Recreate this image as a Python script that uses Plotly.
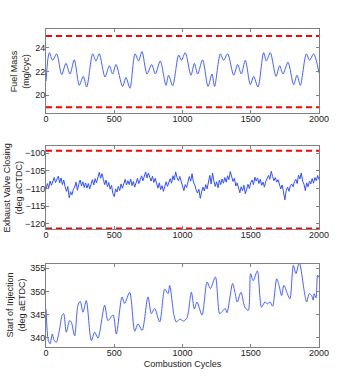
import plotly.graph_objects as go

# ---------------- data ----------------
cycles_fuel = [0, 24, 49, 78, 115, 146, 176, 207, 244, 273, 298, 342, 366, 390, 432, 464, 488, 513,
               561, 586, 615, 652, 679, 703, 740, 774, 801, 837, 879, 898, 928, 972, 992, 1020,
               1062, 1087, 1111, 1147, 1187, 1216, 1235, 1277, 1301, 1331, 1375, 1404, 1431, 1460,
               1497, 1521, 1553, 1594, 1614, 1643, 1685, 1712, 1736, 1773, 1814, 1839, 1863, 1907,
               1931, 1961, 2000]
fuel_mass = [21.2, 23.6, 22.96, 23.5, 21.75, 22.7, 21.8, 23.0, 20.85, 21.6, 20.7, 23.5, 22.9, 23.5,
             21.55, 22.5, 21.8, 22.6, 20.75, 21.5, 20.6, 23.5, 22.9, 23.7, 21.8, 22.6, 21.8, 22.9,
             20.85, 21.7, 20.8, 23.4, 22.95, 23.6, 21.7, 22.7, 21.8, 23.0, 20.75, 21.8, 20.75, 23.5,
             22.96, 23.5, 21.7, 22.6, 21.8, 22.96, 20.9, 21.6, 20.7, 23.6, 22.9, 23.6, 21.6, 22.5,
             21.8, 22.8, 20.9, 21.7, 20.85, 23.5, 22.96, 23.5, 21.9]
fuel_limits = [25.0, 19.0]

cycles_evc = list(range(0, 2001, 10))
evc = [-110.2, -108.6, -109.8, -107.9, -109.1, -108.0, -106.9, -108.3, -107.2, -106.5, -108.4,
       -107.0, -108.9, -107.6, -109.5, -110.8, -109.4, -112.6, -110.9, -111.8, -110.3,
       -109.6, -108.2, -110.5, -108.8, -107.6, -109.3, -108.1, -109.7, -108.4, -109.9,
       -108.6, -110.1, -108.3, -107.5, -109.0, -107.2, -108.4, -106.6, -105.4, -107.1,
       -105.8, -107.4, -108.9, -107.6, -109.5, -108.3, -110.2, -109.1, -111.4, -112.3,
       -110.1, -111.0, -109.4, -110.6, -108.7, -109.9, -108.2, -107.4, -109.0, -107.8,
       -108.9, -107.3, -109.2, -108.0, -109.6, -108.4, -107.1, -108.6, -107.5, -106.4,
       -107.8, -106.2, -105.3, -107.0, -105.6, -106.8, -107.9, -106.5, -108.3, -107.1,
       -108.8, -109.9, -108.4, -110.3, -109.2, -110.8, -109.5, -108.1, -109.4, -107.9,
       -107.2, -108.5, -106.4, -107.6, -105.3, -106.9, -107.8, -106.6, -108.4, -109.3,
       -110.6, -108.9, -109.7, -107.8, -106.6, -107.9, -105.8, -108.2, -109.0, -110.4,
       -111.3, -110.2, -112.8, -111.0, -109.6, -110.7, -108.9, -110.1, -108.5, -106.3,
       -108.7, -105.6, -107.9, -109.4, -108.1, -109.8, -107.6, -108.9, -107.3, -108.5,
       -106.9, -108.2, -106.4, -107.5, -105.2, -106.8, -108.0, -107.1, -109.3, -108.4,
       -109.9, -111.2, -109.5, -110.6, -109.1, -111.5, -110.2, -108.8, -110.0, -108.3,
       -107.6, -108.9, -106.8, -107.9, -107.0, -108.6, -107.4, -109.1, -108.2, -109.6,
       -108.0, -107.1, -106.3, -107.4, -105.1, -106.6, -107.8, -106.9, -108.2, -107.5,
       -108.9, -110.1, -109.0, -110.7, -113.2, -110.5, -109.6, -110.8, -109.2, -108.7,
       -109.5, -108.1, -107.4, -108.6, -106.2, -107.3, -105.6, -107.9, -108.8, -110.6,
       -108.4, -109.5, -107.9, -108.7, -107.2, -108.5, -106.9, -107.8, -106.3, -107.5]
evc_limits = [-99.3, -121.3]

cycles_soi = [0, 17, 30, 46, 58, 75, 100, 117, 129, 149, 173, 186, 210, 234, 251, 271, 295, 332,
              356, 381, 393, 430, 454, 491, 515, 557, 576, 613, 650, 674, 704, 747, 772, 796, 833,
              870, 894, 906, 938, 955, 980, 1008, 1033, 1065, 1087, 1106, 1143, 1180, 1204, 1241,
              1272, 1289, 1313, 1326, 1367, 1384, 1401, 1428, 1457, 1482, 1499, 1518, 1548, 1579,
              1604, 1621, 1641, 1660, 1690, 1707, 1726, 1743, 1768, 1787, 1812, 1831, 1855, 1897,
              1909, 1929, 1946, 1958, 1965, 1978, 1990, 2000]
soi = [346.2, 339.4, 338.7, 340.8, 339.6, 339.0, 341.9, 344.8, 345.2, 341.2, 343.7, 343.3, 340.4,
       347.0, 347.8, 345.5, 348.0, 339.4, 341.2, 339.9, 341.1, 347.0, 343.7, 344.9, 340.8, 348.8,
       347.4, 349.8, 341.4, 343.0, 341.6, 348.8, 345.2, 346.3, 343.4, 350.5, 349.5, 351.3, 344.8,
       343.4, 344.0, 343.6, 344.3, 349.8, 346.2, 347.7, 344.9, 352.0, 350.6, 353.1, 345.2, 345.6,
       346.3, 345.4, 351.7, 349.8, 347.7, 349.8, 346.6, 345.9, 353.8, 352.3, 354.4, 346.6, 347.7,
       347.3, 347.7, 346.8, 352.7, 351.3, 349.1, 351.3, 349.5, 348.4, 355.6, 353.8, 356.2, 349.1,
       347.7, 349.5, 349.1, 348.1, 349.5, 348.6, 353.5, 353.0]

x_ticks = [0, 500, 1000, 1500, 2000]
fuel_ticks = [20, 22, 24]
evc_ticks = [-120, -115, -110, -105, -100]
soi_ticks = [340, 345, 350, 355]
x_range = [0, 2000]
fuel_range = [18.5, 25.6]
evc_range = [-121.6, -98.0]
soi_range = [338.0, 356.0]

y_titles = ["Fuel Mass<br>(mg/cyc)", "Exhaust Valve Closing<br>(deg aCTDC)", "Start of Injection<br>(deg aETDC)"]
x_title = "Combustion Cycles"

# ---------------- figure ----------------
BLUE = "#3050ff"
RED = "#ff0000"
FONT = "Liberation Sans, Arial, sans-serif"
FRAME = "#808080"
DASH = "6px,4px"

fig = go.Figure()

fig.add_trace(go.Scatter(x=cycles_fuel, y=fuel_mass, mode="lines",
                         line=dict(color=BLUE, width=0.9, shape="spline", smoothing=0.8),
                         xaxis="x", yaxis="y", showlegend=False))
for lim in fuel_limits:
    fig.add_trace(go.Scatter(x=x_range, y=[lim, lim], mode="lines", line=dict(color=RED, width=2, dash=DASH),
                             xaxis="x", yaxis="y", showlegend=False))

fig.add_trace(go.Scatter(x=cycles_evc, y=evc, mode="lines", line=dict(color=BLUE, width=1.0),
                         xaxis="x2", yaxis="y2", showlegend=False))
for lim in evc_limits:
    fig.add_trace(go.Scatter(x=x_range, y=[lim, lim], mode="lines", line=dict(color=RED, width=2, dash=DASH),
                             xaxis="x2", yaxis="y2", showlegend=False))

fig.add_trace(go.Scatter(x=cycles_soi, y=soi, mode="lines",
                         line=dict(color=BLUE, width=0.9, shape="spline", smoothing=0.8),
                         xaxis="x3", yaxis="y3", showlegend=False))

W, H = 352, 390
left, right, top, bot = 45.7, 33.3, 29.0, 43.3
pw = W - left - right
ph = H - top - bot


def dom(y0, y1):
    return [(H - bot - y1) / ph, (H - bot - y0) / ph]


def px_x(px):
    return (px - left) / pw


def px_y(py):
    return (H - bot - py) / ph


axis_common = dict(showline=True, linecolor=FRAME, linewidth=1, mirror="ticks", ticks="inside",
                   ticklen=3, tickcolor=FRAME, showgrid=False, zeroline=False, automargin=False,
                   tickfont=dict(family=FONT, size=9, color="#222222"))
xcommon = dict(axis_common, ticklabelstandoff=-3)
ycommon = dict(axis_common, ticklabelstandoff=-2)

# y-title placement (pixel centres) per panel
title_pos = [(20.0, 71.0), (12.5, 187.6), (16.0, 305.0)]
annotations = []
for txt, (cx, cy) in zip(y_titles, title_pos):
    annotations.append(dict(text=txt, x=px_x(cx), y=px_y(cy), xref="paper", yref="paper",
                            xanchor="center", yanchor="middle", textangle=-90, showarrow=False,
                            font=dict(family=FONT, size=9, color="#222222")))

fig.update_layout(
    width=W, height=H,
    margin=dict(l=left, r=right, t=top, b=bot, autoexpand=False),
    paper_bgcolor="white", plot_bgcolor="white",
    font=dict(family=FONT, size=9, color="#222222"),
    annotations=annotations,
    xaxis=dict(domain=[0, 1], range=x_range, tickvals=x_ticks, anchor="y", **xcommon),
    yaxis=dict(domain=dom(29, 113), range=fuel_range, tickvals=fuel_ticks, anchor="x", **ycommon),
    xaxis2=dict(domain=[0, 1], range=x_range, tickvals=x_ticks, anchor="y2", **xcommon),
    yaxis2=dict(domain=dom(146, 229.3), range=evc_range, tickvals=evc_ticks, anchor="x2", **ycommon),
    xaxis3=dict(domain=[0, 1], range=x_range, tickvals=x_ticks, anchor="y3",
                title=dict(text=x_title, standoff=3, font=dict(family=FONT, size=9)), **xcommon),
    yaxis3=dict(domain=dom(263.3, 346.7), range=soi_range, tickvals=soi_ticks, anchor="x3", **ycommon),
)

fig.write_html("out.html", config={"displayModeBar": False},
               post_script="document.body.style.margin='0';")
